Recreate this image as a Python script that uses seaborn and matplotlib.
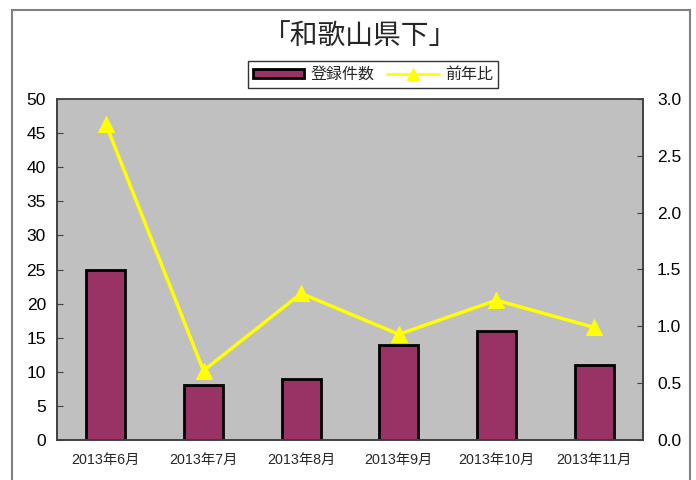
import numpy as np
import pandas as pd
import matplotlib
matplotlib.use("Agg")
import matplotlib.pyplot as plt
from matplotlib.patches import Rectangle, Patch
from matplotlib.lines import Line2D
import seaborn as sns

months = ["2013年6月", "2013年7月", "2013年8月", "2013年9月", "2013年10月", "2013年11月"]
registrations = [25, 8, 9, 14, 16, 11]
yoy_ratio = [2.78, 0.61, 1.29, 0.93, 1.23, 0.99]

sns.set_style("white")
plt.rcParams['font.family'] = ['Liberation Sans', 'Noto Sans CJK JP', 'DejaVu Sans']

df = pd.DataFrame({"month": months, "count": registrations, "ratio": yoy_ratio})
df["pos"] = np.arange(len(df))

fig = plt.figure(figsize=(6.96, 4.8), dpi=100)
ax = fig.add_axes([57 / 696, 40 / 480, 586 / 696, 341 / 480])
ax.set_facecolor("#c0c0c0")

sns.barplot(data=df, x="month", y="count", color="#993366", width=0.4,
            edgecolor="black", linewidth=2, saturation=1, ax=ax)
ax.set_ylim(0, 50)
ax.set_yticks(range(0, 51, 5))
ax.set_xlim(-0.5, len(months) - 0.5)
ax.set_xlabel("")
ax.set_ylabel("")

ax2 = ax.twinx()
sns.lineplot(data=df, x="pos", y="ratio", color="#ffff00", linewidth=2.5,
             marker="^", markersize=12, markeredgecolor="#ffff00", ax=ax2)
ax2.set_ylim(0, 3.0)
ax2.set_yticks(np.arange(0, 3.01, 0.5))
ax2.set_yticklabels([f"{v:.1f}" for v in np.arange(0, 3.01, 0.5)])
ax2.set_ylabel("")
ax2.set_xlabel("")
ax2.set_xlim(-0.5, len(months) - 0.5)

for a in (ax, ax2):
    for s in a.spines.values():
        s.set_color("#404040")
        s.set_linewidth(1.2)
ax.spines["top"].set_color("#909090")

ax.tick_params(axis="y", direction="in", length=4, labelsize=12.5, pad=8, colors="#404040", labelcolor="black")
ax2.tick_params(axis="y", direction="in", length=4, labelsize=12.5, pad=10, colors="#404040", labelcolor="black")
ax.set_xticks(range(len(months)))
ax.set_xticklabels(months)
ax.tick_params(axis="x", length=0, labelsize=10.3, pad=9)
ax.set_xticks(np.arange(0.5, len(months) - 1, 1.0), minor=True)
ax.tick_params(axis="x", which="minor", direction="in", length=4, colors="#404040")

fig.text(0.517, 0.925, "「和歌山県下」", ha="center", va="center", fontsize=20,
         family=['Noto Sans CJK JP', 'DejaVu Sans'], fontweight="normal")

handles = [Patch(facecolor="#993366", edgecolor="black", linewidth=2),
           Line2D([], [], color="#ffff00", linewidth=2, marker="^", markersize=8)]
leg = fig.legend(handles, ["登録件数", "前年比"], loc="center", bbox_to_anchor=(0.536, 0.845),
                 ncol=2, frameon=True, fancybox=False, handlelength=3.2,
                 handleheight=0.5, columnspacing=0.8, handletextpad=0.4, borderpad=0.3,
                 prop={'family': ['Noto Sans CJK JP', 'DejaVu Sans'], 'size': 11.5})
leg.get_frame().set_edgecolor("black")
leg.get_frame().set_linewidth(1)

fig.patches.append(Rectangle((12 / 696, -0.1), 678 / 696, 1.1 - 10 / 480,
                             transform=fig.transFigure, fill=False,
                             edgecolor="#808080", linewidth=1.5))

fig.savefig("out.png", dpi=100)
